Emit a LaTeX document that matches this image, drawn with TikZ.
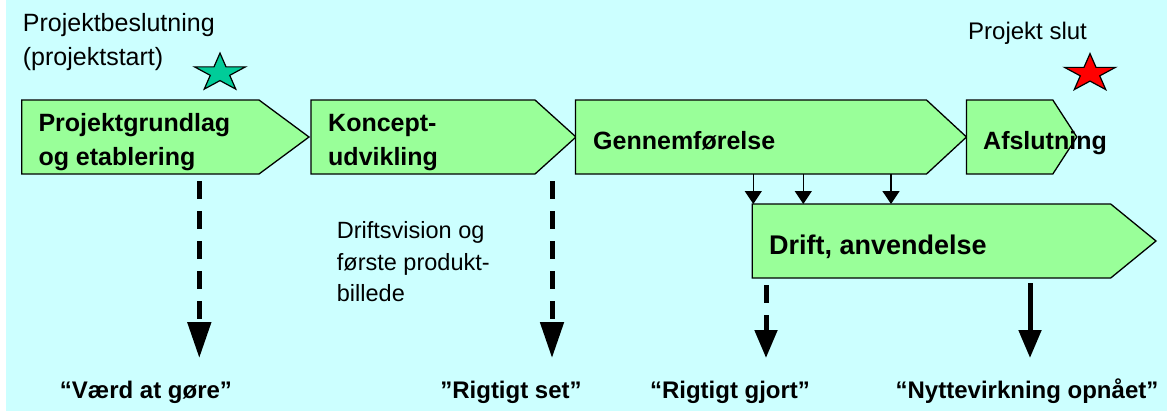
\documentclass[tikz,border=0pt]{standalone}
\usepackage{fontspec}
\setmainfont{Liberation Sans}
\usetikzlibrary{arrows.meta,calc}
\definecolor{bgcyan}{RGB}{204,255,255}
\definecolor{phasegreen}{RGB}{153,255,153}
\definecolor{starteal}{RGB}{0,204,153}
\definecolor{starred}{RGB}{255,0,0}

\tikzset{
  area/.style={inner sep=0pt, outer sep=0pt, minimum height=74pt, anchor=north west},
  chevron/.style={draw=black, fill=phasegreen, line width=1.3pt, line join=miter},
  phasetext/.style={inner sep=0pt, font=\bfseries\fontsize{25}{34}\selectfont, align=left},
  plaintext/.style={inner sep=0pt, font=\fontsize{25}{33.3}\selectfont, align=left},
  resulttext/.style={inner sep=0pt, font=\bfseries\fontsize{24}{28}\selectfont, anchor=base},
  feed/.style={line width=1.5pt, -{Triangle[width=17pt,length=13pt]}},
  milestone/.style={line width=5pt, -{Triangle[width=22pt,length=28pt]}},
  longhead/.style={-{Triangle[width=23pt,length=36pt]}},
  dashmile/.style={milestone, dash pattern=on 18pt off 12pt},
  starline/.style={draw=black, line width=1.2pt, line join=miter},
}

% phase arrow: rectangular body of node #1 plus a pointed tip of length #2
\newcommand\chevronpath[2]{%
  \draw[chevron] (#1.north west) -- (#1.north east) -- ($(#1.east)+(#2,0)$)
    -- (#1.south east) -- (#1.south west) -- cycle;}

% five-pointed star, flattened by the unit vectors of the enclosing scope
\newcommand\starpath[1]{%
  \draw[starline, fill=#1] (-90:1) -- (-54:0.382) -- (-18:1) -- (18:0.382)
    -- (54:1) -- (90:0.382) -- (126:1) -- (162:0.382) -- (198:1) -- (234:0.382) -- cycle;}

\begin{document}
\begin{tikzpicture}[x=1pt, y=-1pt]
  \useasboundingbox (0,0) rectangle (1167,412);
  \fill[white] (0,0) rectangle (1167,412);
  \fill[bgcyan] (6,0) rectangle (1167,410.5);

  % rectangular bodies of the phases
  \node[area, minimum width=237.3pt] (grund)   at (21.7,100) {};
  \node[area, minimum width=224pt]   (koncept) at (311,100)  {};
  \node[area, minimum width=351pt]   (genn)    at (575.5,100) {};
  \node[area, minimum width=86.3pt]  (afslut)  at (966.5,100) {};
  \node[area, minimum width=358.4pt] (drift)   at (752.3,204) {};

  \chevronpath{grund}{50}
  \chevronpath{koncept}{41}
  \chevronpath{genn}{40}
  \chevronpath{afslut}{24}
  \chevronpath{drift}{45.3}

  % hand-over from execution to operation
  \draw[feed] ($(genn.south -| drift.north west)+(1,0)$) -- ($(drift.north west)+(1,0)$);
  \draw[feed] ($(genn.south -| drift.north west)+(51,0)$) -- ($(drift.north west)+(51,0)$);
  \draw[feed] ($(genn.south -| drift.north west)+(138.7,0)$) -- ($(drift.north west)+(138.7,0)$);

  % milestones
  \begin{scope}[shift={(220,73)}, x=26.8pt, y=-19.9pt]
    \starpath{starteal}
  \end{scope}
  \begin{scope}[shift={(1090,73.5)}, x=26.8pt, y=-19.9pt]
    \starpath{starred}
  \end{scope}

  % phase names
  \node[phasetext, anchor=west] (grundtxt) at (38.3,142) {Projektgrundlag\\og etablering};
  \node[phasetext, anchor=west] (konctxt) at (328,142.3) {Koncept-\\udvikling};
  \node[phasetext, anchor=base west] (genntxt) at (593,149) {Gennemførelse};
  \node[phasetext, anchor=base west] (afsltxt) at (983,149) {Afslutning};
  \node[phasetext, font=\bfseries\fontsize{27}{34}\selectfont, anchor=base west] (drifttxt) at (769,254) {Drift, anvendelse};

  % annotations
  \node[plaintext, anchor=west] (beslut) at (22.7,41.9) {Projektbeslutning\\(projektstart)};
  \node[plaintext, font=\fontsize{24}{30}\selectfont, anchor=base west] (slut) at (968,40) {Projekt slut};
  \node[plaintext, font=\fontsize{23.5}{31.7}\selectfont, anchor=west] (vision) at (336.7,261.6) {Driftsvision og\\første produkt-\\billede};

  % results
  \node[resulttext] (vaerd) at (146,398) {“Værd at gøre”};
  \node[resulttext] (set)   at (511,398) {”Rigtigt set”};
  \node[resulttext] (gjort) at (730,398) {“Rigtigt gjort”};
  \node[resulttext] (nytte) at (1027,398) {“Nyttevirkning opnået”};

  \coordinate (tip1) at (199.3,358);
  \coordinate (tip2) at (552,358);
  \coordinate (tip3) at (766,358);
  \coordinate (tip4) at (1030,358);
  \draw[dashmile, longhead] ($(tip1 |- grund.south)+(0,7)$) -- (tip1);
  \draw[dashmile, longhead] ($(tip2 |- koncept.south)+(0,7)$) -- (tip2);
  \draw[dashmile] ($(tip3 |- drift.south)+(0,7)$) -- (tip3);
  \draw[milestone] ($(tip4 |- drift.south)+(0,5)$) -- (tip4);
\end{tikzpicture}
\end{document}
